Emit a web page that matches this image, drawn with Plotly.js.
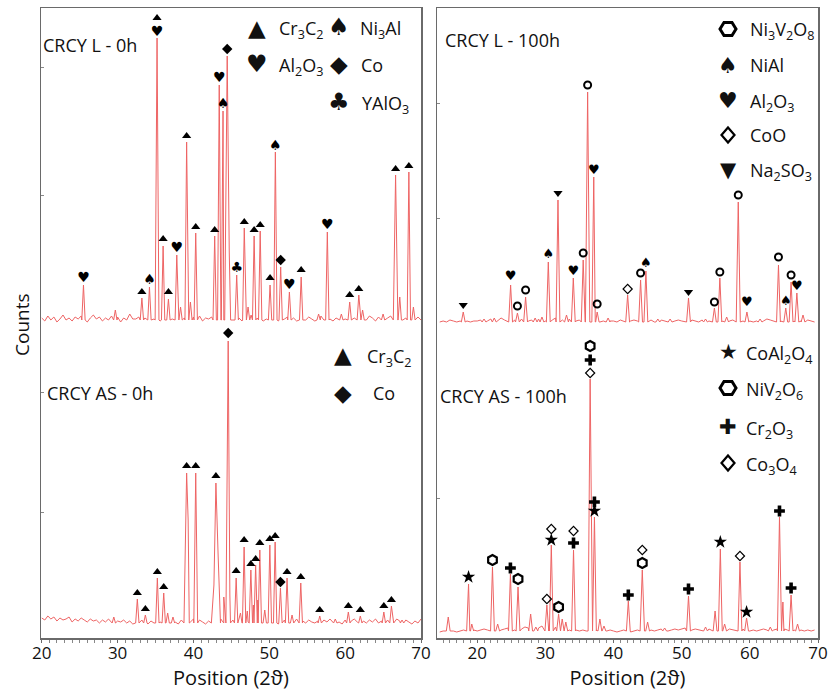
<!DOCTYPE html>
<html><head><meta charset="utf-8">
<script src="https://cdn.plot.ly/plotly-3.0.1.min.js"></script>
<style>body{margin:0;background:#fff}#chart{width:836px;height:696px}</style>
</head><body><div id="chart"></div>
<script>
// ---------- DATA (heights in counts above each pattern's own baseline) ----------
// Top-left: CRCY L - 0h
const tlPeakX = [25.5,29.7,33.2,34.2,35.2,36.0,36.7,37.8,38.3,39.1,39.6,40.3,42.8,43.4,43.9,44.45,45.7,46.7,47.2,48.0,48.8,50.1,50.8,51.5,52.65,54.2,56.5,57.65,59.5,60.6,61.8,62.3,65.0,66.65,67.2,68.4,69.0];
const tlPeakH = [37,12,24,35,284,76,23,67,15,180,20,89,86,237,211,266,47,94,15,86,91,37,170,55,30,45,8,90,8,20,27,12,8,147,25,150,15];
const tlPeakW = [0.22,0.22,0.22,0.22,0.25,0.22,0.22,0.22,0.22,0.22,0.22,0.22,0.22,0.22,0.22,0.45,0.22,0.22,0.22,0.22,0.22,0.22,0.22,0.22,0.22,0.22,0.22,0.22,0.22,0.22,0.22,0.22,0.22,0.3,0.22,0.22,0.22];
const tlExtraX = [44.72,66.45];
const tlExtraH = [70,60];
const tlNoise = [4,1,6,2,5,0,3,7,2,4,1,5,3,6,2,0,4,7,3,5,
                 1,4,2,6,12,5,0,4,2,8,3,3,5,1,4,6,2,3,5,1,
                 4,2,6,3,1,5,2,4,7,3,5,2,6,1,4,3,5,2,6,4,
                 1,5,3,2,6,4,1,5,3,7,2,4,6,1,3,5,2,4,1,6,
                 3,5,2,4,1,3,6,2,5,3,1,4,6,2,5,3,1,4,2,5,
                 3,6,2,4,1,5,3,2,6,4,1,5,3,2,4,6,1,3,5,2,
                 4,1,6,3,5,2];
const tlCr3C2X = [33.2,35.2,36.0,36.7,39.1,40.3,42.8,46.7,48.0,48.8,50.1,54.2,60.6,61.8,66.65,68.4];
const tlCr3C2Y = [30,304,83,30,186,95,92,100,92,97,44,52,27,33,153,156];
const tlNi3AlX = [34.2,43.9,50.8];
const tlNi3AlY = [42,218,176];
const tlAl2O3X = [25.5,35.2,37.8,43.4,52.65,57.65];
const tlAl2O3Y = [44,290,74,244,37,97];
const tlCoX = [44.45,51.5];
const tlCoY = [273,62];
const tlYAlO3X = [45.7];
const tlYAlO3Y = [54];

// Top-right: CRCY L - 100h
const trPeakX = [17.95,21.0,22.5,24.9,25.9,27.1,28.5,29.5,30.43,31.85,33.1,34.1,35.55,36.2,37.1,37.6,39.2,42.07,43.97,44.75,46.5,48.3,51.0,53.5,54.8,55.6,56.6,58.3,59.57,61.5,64.2,65.27,66.05,66.9,67.8];
const trPeakH = [11,4,5,38,10,26,5,6,61,123,8,45,63,231,146,11,5,28,43,52,4,4,25,4,15,45,6,121,11,4,58,15,41,30,8];
const trPeakW = [0.28,0.28,0.28,0.28,0.28,0.28,0.28,0.28,0.28,0.28,0.28,0.28,0.28,0.32,0.28,0.28,0.28,0.28,0.28,0.28,0.28,0.28,0.28,0.28,0.28,0.28,0.28,0.3,0.28,0.28,0.28,0.28,0.28,0.28,0.28];
const trExtraX = [64.42];
const trExtraH = [18];
const trNoise = [1,2,1,3,2,1,2,3,2,1,2,2,3,1,2,4,3,2,5,3,
                 2,1,3,2,4,3,2,3,5,4,3,2,4,3,5,4,3,2,4,3,
                 2,3,2,1,2,3,2,1,2,3,2,2,1,3,2,1,2,3,2,1,
                 2,2,3,1,2,3,2,1,2,2,3,2,1,2,3,2,1,3,2,2,
                 1,2,3,2,1,2,3,4,3,2,3,2,1,2,3,2,4,3,2,1,
                 2,3,2,1,2,1,2,1,3,2,1];
const trNi3V2O8X = [25.9,27.1,35.55,36.2,37.6,43.97,54.8,55.6,58.3,64.2,66.05];
const trNi3V2O8Y = [17,33,70,238,19,50,21,51,128,66,48];
const trNiAlX = [30.43,44.75,65.27];
const trNiAlY = [68,59,21];
const trAl2O3X = [24.9,34.1,37.1,59.57,66.9];
const trAl2O3Y = [46,51,152,20,36];
const trCoOX = [42.07];
const trCoOY = [34];
const trNa2SO3X = [17.95,31.85,51.0];
const trNa2SO3Y = [18,130,31];

// Bottom-left: CRCY AS - 0h
const blPeakX = [29.5,32.6,33.66,35.24,36.08,36.6,37.3,39.1,40.3,42.96,44.58,45.63,46.68,47.57,48.2,48.75,49.4,50.07,50.77,51.47,52.34,53.0,54.15,56.65,58.7,60.42,62.0,65.1,66.1,67.5];
const blPeakH = [8,26,10,47,32,12,8,152,152,142,284,47,78,55,60,75,15,80,83,37,47,10,42,9,6,13,9,13,19,5];
const blPeakW = [0.22,0.22,0.22,0.22,0.22,0.22,0.22,0.35,0.25,0.6,0.3,0.22,0.22,0.22,0.22,0.22,0.22,0.22,0.22,0.22,0.22,0.22,0.22,0.22,0.22,0.22,0.22,0.22,0.22,0.22];
const blExtraX = [39.3,42.7,43.25,44.0,44.8,46.2,47.1,47.9,48.48];
const blExtraH = [105,40,70,28,30,12,14,20,25];
const blNoise = [7,5,9,6,8,4,7,5,6,8,3,6,4,7,5,3,6,4,5,2,
                 5,3,6,2,9,4,3,5,2,4,1,4,2,5,3,1,4,2,6,3,
                 5,2,4,6,3,1,5,2,4,3,6,2,5,3,1,4,2,5,3,6,
                 2,4,1,5,3,6,2,4,3,5,1,4,2,6,3,5,2,4,1,3,
                 5,2,4,3,6,1,4,2,5,3,2,4,1,5,3,6,2,4,3,1,
                 5,2,4,6,3,1,4,2,5,3,6,2,4,1,5,3,2,6,4,2,
                 5,3,1,4,2,6];
const blCr3C2X = [32.6,33.66,35.24,36.08,39.1,40.3,42.96,45.63,46.68,47.57,48.2,48.75,50.07,50.77,52.34,54.15,56.65,60.42,62.0,65.1,66.1];
const blCr3C2Y = [32,16,53,38,159,159,149,54,85,61,66,82,86,89,53,48,15,19,15,19,25];
const blCoX = [44.58,51.47];
const blCoY = [292,43];

// Bottom-right: CRCY AS - 100h
const brPeakX = [15.75,18.73,19.2,22.24,23.0,24.87,25.99,27.84,28.6,30.22,30.87,31.94,32.47,33.0,34.13,36.57,37.2,38.0,38.6,42.17,44.22,45.0,47.5,51.0,53.5,54.9,55.67,56.3,58.55,59.52,63.0,64.35,66.05,67.0];
const brPeakH = [15,48,8,65,8,58,45,18,5,27,87,18,13,10,82,253,115,13,6,31,62,10,4,36,5,21,83,8,70,14,5,115,37,8];
const brPeakW = [0.28,0.28,0.28,0.28,0.28,0.28,0.28,0.28,0.28,0.28,0.28,0.28,0.28,0.28,0.28,0.3,0.28,0.28,0.28,0.28,0.32,0.28,0.28,0.28,0.28,0.28,0.28,0.28,0.28,0.28,0.28,0.3,0.28,0.28];
const brExtraX = [64.85,65.1];
const brExtraH = [30,3];
const brNoise = [0,1,0,2,1,0,1,2,1,3,2,1,2,3,2,1,2,3,2,3,
                 4,3,2,4,3,5,4,3,5,4,6,5,4,6,5,4,5,3,2,3,
                 2,1,2,1,0,1,2,1,2,1,2,1,0,1,2,1,0,1,2,1,
                 2,3,2,1,2,3,2,1,2,3,2,3,4,3,2,3,2,1,2,3,
                 2,3,2,1,2,3,2,1,2,3,2,1,2,1,2,3,2,1,2,3,
                 2,1,2,1,2,3,2,1,2,1,2];
const brCoAl2O4X = [18.73,30.87,37.2,55.67,59.52];
const brCoAl2O4Y = [55,92,121,90,20];
const brNiV2O6X = [22.24,25.99,31.94,36.57,44.22];
const brNiV2O6Y = [72,53,25,286,69];
const brCr2O3X = [24.87,34.13,36.57,37.2,42.17,51.0,64.35,66.05];
const brCr2O3Y = [64,89,272,130,37,43,121,44];
const brCo3O4X = [30.22,30.87,34.13,36.57,44.22,58.55];
const brCo3O4Y = [33,103,101,259,82,76];

const xTicks = [20,30,40,50,60,70];

// ---------- BUILD ----------
const RED = 'rgb(238,100,100)';
function pattern(px, ph, pw, ex, eh, noise, n0, nStep, foot, off, ax) {
  const pts = [];
  px.forEach((x,i)=>{ pts.push([x-pw[i],foot]); pts.push([x,ph[i]]); pts.push([x+pw[i],foot]); });
  noise.forEach((h,i)=>{ const x = n0 + i*nStep;
    if (!px.some((p,j)=>Math.abs(x-p) < pw[j])) pts.push([x,h]); });
  ex.forEach((x,i)=>pts.push([x,eh[i]]));
  pts.sort((a,b)=>a[0]-b[0]);
  return {type:'scatter', mode:'lines', x:pts.map(p=>p[0]), y:pts.map(p=>p[1]+off),
    xaxis:ax[0], yaxis:ax[1], line:{color:RED, width:1}, hoverinfo:'skip', showlegend:false};
}
function mk(xs, ys, off, ax, marker) {
  return {type:'scatter', mode:'markers', x:xs, y:ys.map(v=>v+off), xaxis:ax[0], yaxis:ax[1],
    marker:marker, hoverinfo:'skip', showlegend:false, cliponaxis:false};
}
function gl(xs, ys, off, ax, ch, size) {
  return {type:'scatter', mode:'text', x:xs, y:ys.map(v=>v+off), xaxis:ax[0], yaxis:ax[1],
    text:xs.map(()=>ch), textposition:'middle center',
    textfont:{family:'DejaVu Sans', size:size, color:'#000'}, hoverinfo:'skip', showlegend:false, cliponaxis:false};
}
const L = ['x','y'], R = ['x2','y2'];
const tlOff = 316, trOff = 315, blOff = 13, brOff = 6;
const triUp = {symbol:'triangle-up', size:8, color:'#000'};
const diaF = {symbol:'diamond', size:8, color:'#000'};
const triDn = {symbol:'triangle-down', size:8, color:'#000'};
const circO = {symbol:'circle-open', size:7, color:'#000', line:{width:2}};
const hexO = {symbol:'hexagon-open', size:10, color:'#000', line:{width:2.2}};
const diaO = {symbol:'diamond-open', size:7, color:'#000', line:{width:1.2}};
const starF = {symbol:'star', size:10, color:'#000'};
const crossF = {symbol:'cross', size:9, color:'#000'};

const data = [
  pattern(tlPeakX, tlPeakH, tlPeakW, tlExtraX, tlExtraH, tlNoise, 20, 0.4, 2, tlOff, L),
  pattern(blPeakX, blPeakH, blPeakW, blExtraX, blExtraH, blNoise, 20, 0.4, 2, blOff, L),
  pattern(trPeakX, trPeakH, trPeakW, trExtraX, trExtraH, trNoise, 14.5, 0.5, 1, trOff, R),
  pattern(brPeakX, brPeakH, brPeakW, brExtraX, brExtraH, brNoise, 14.5, 0.5, 1, brOff, R),
  mk(tlCr3C2X, tlCr3C2Y, tlOff, L, triUp),
  gl(tlNi3AlX, tlNi3AlY, tlOff, L, '\u2660', 14),
  gl(tlAl2O3X, tlAl2O3Y, tlOff, L, '\u2665', 14),
  mk(tlCoX, tlCoY, tlOff, L, diaF),
  gl(tlYAlO3X, tlYAlO3Y, tlOff, L, '\u2663', 14),
  mk(blCr3C2X, blCr3C2Y, blOff, L, triUp),
  mk(blCoX, blCoY, blOff, L, diaF),
  mk(trNi3V2O8X, trNi3V2O8Y, trOff, R, circO),
  gl(trNiAlX, trNiAlY, trOff, R, '\u2660', 13),
  gl(trAl2O3X, trAl2O3Y, trOff, R, '\u2665', 13),
  mk(trCoOX, trCoOY, trOff, R, diaO),
  mk(trNa2SO3X, trNa2SO3Y, trOff, R, triDn),
  mk(brCoAl2O4X, brCoAl2O4Y, brOff, R, starF),
  mk(brNiV2O6X, brNiV2O6Y, brOff, R, hexO),
  mk(brCr2O3X, brCr2O3Y, brOff, R, crossF),
  mk(brCo3O4X, brCo3O4Y, brOff, R, diaO)
];

// ---------- LAYOUT ----------
const ML = 41, MT = 8, PW = 777, PH = 630;
const px2x = p => (p - ML) / PW;
const py2y = p => (MT + PH - p) / PH;
const ann = [];
const shp = [];
const LEG = 18;
function txt(t, px, py, size, anchor, fam) {
  ann.push({xref:'paper', yref:'paper', x:px2x(px), y:py2y(py), text:t, showarrow:false,
    xanchor:anchor, yanchor:'middle', font:{size:size, color:'#111', family:fam || 'Open Sans, sans-serif'}});
}
function sym(ch, px, py, size) { txt(ch, px, py, size, 'center', 'DejaVu Sans'); }
// open legend outlines drawn as paper-space paths (pixel based)
function outline(pts, lw) {
  const d = pts.map((p,i)=>(i?'L':'M') + px2x(p[0]).toFixed(5) + ',' + py2y(p[1]).toFixed(5)).join(' ') + ' Z';
  shp.push({type:'path', xref:'paper', yref:'paper', path:d, line:{color:'#000', width:lw}, fillcolor:'rgba(0,0,0,0)'});
}
function hexLegend(cx, cy) {
  const r = 8;
  outline([[cx-r,cy],[cx-r/2,cy-6.5],[cx+r/2,cy-6.5],[cx+r,cy],[cx+r/2,cy+6.5],[cx-r/2,cy+6.5]], 3);
}
function diaLegend(cx, cy) {
  outline([[cx,cy-7.5],[cx+6.5,cy],[cx,cy+7.5],[cx-6.5,cy]], 2.2);
}

// Panel labels
txt('CRCY L - 0h', 41, 45, 18, 'left');
txt('CRCY L - 100h', 443, 40, 18, 'left');
txt('CRCY AS - 0h', 45, 393, 18, 'left');
txt('CRCY AS - 100h', 438, 396, 18, 'left');
// Legend top-left
sym('\u25B2', 257, 28, 23); txt('Cr<sub>3</sub>C<sub>2</sub>', 277, 30, LEG, 'left');
sym('\u2660', 339, 27, 24); txt('Ni<sub>3</sub>Al', 358, 30, LEG, 'left');
sym('\u2665', 257, 64, 24); txt('Al<sub>2</sub>O<sub>3</sub>', 277, 66, LEG, 'left');
sym('\u25C6', 339, 64, 23); txt('Co', 359, 65, LEG, 'left');
sym('\u2663', 339, 102, 24); txt('YAlO<sub>3</sub>', 360, 104, LEG, 'left');
// Legend top-right
hexLegend(728, 29); txt('Ni<sub>3</sub>V<sub>2</sub>O<sub>8</sub>', 748, 31, LEG, 'left');
sym('\u2660', 728, 65, 22); txt('NiAl', 748, 65, LEG, 'left');
sym('\u2665', 728, 100, 22); txt('Al<sub>2</sub>O<sub>3</sub>', 748, 102, LEG, 'left');
diaLegend(728, 135); txt('CoO', 748, 135, LEG, 'left');
sym('\u25BC', 728, 170, 21); txt('Na<sub>2</sub>SO<sub>3</sub>', 748, 172, LEG, 'left');
// Legend bottom-left
sym('\u25B2', 343, 355, 23); txt('Cr<sub>3</sub>C<sub>2</sub>', 365, 357, LEG, 'left');
sym('\u25C6', 343, 393, 23); txt('Co', 371, 393, LEG, 'left');
// Legend bottom-right
sym('\u2605', 728, 352, 21); txt('CoAl<sub>2</sub>O<sub>4</sub>', 744, 354, LEG, 'left');
hexLegend(728, 388); txt('NiV<sub>2</sub>O<sub>6</sub>', 744, 390, LEG, 'left');
sym('\u271A', 728, 427, 21); txt('Cr<sub>2</sub>O<sub>3</sub>', 744, 429, LEG, 'left');
diaLegend(728, 463); txt('Co<sub>3</sub>O<sub>4</sub>', 744, 465, LEG, 'left');
// Y title
ann.push({xref:'paper', yref:'paper', x:px2x(22), y:py2y(325), text:'Counts', showarrow:false,
  textangle:-90, xanchor:'center', yanchor:'middle', font:{size:19, color:'#111', family:'Open Sans, sans-serif'}});

const xBase = {showline:true, linecolor:'#6a6a6a', linewidth:1.5, mirror:true, ticks:'outside', ticklen:3,
  tickcolor:'#6a6a6a', tickvals:xTicks, showgrid:false, zeroline:false, ticklabelstandoff:-4,
  minor:{dtick:1, ticks:'outside', ticklen:3, tickcolor:'#888', showgrid:false},
  tickfont:{size:17, color:'#111', family:'Open Sans, sans-serif'},
  title:{text:'Position (2\u03D1)', font:{size:20, color:'#111', family:'Open Sans, sans-serif'}, standoff:2}};
const yBase = {range:[0,630], showline:true, linecolor:'#6a6a6a', linewidth:1.5, mirror:true, ticks:'inside', ticklen:3,
  tickcolor:'#888', showticklabels:false, showgrid:false, zeroline:false, fixedrange:true};

const layout = {
  width:836, height:696, margin:{l:ML, r:18, t:MT, b:58}, paper_bgcolor:'#fff', plot_bgcolor:'#fff',
  showlegend:false, font:{family:'Open Sans, sans-serif', color:'#111'},
  xaxis:Object.assign({}, xBase, {domain:[0, px2x(421)], range:[19.9,70], anchor:'y'}),
  yaxis:Object.assign({}, yBase, {anchor:'x', tickvals:[126,246,443,571]}),
  xaxis2:Object.assign({}, xBase, {domain:[px2x(437), 1], range:[14.1,70], anchor:'y2'}),
  yaxis2:Object.assign({}, yBase, {anchor:'x2', tickvals:[140,420,535]}),
  annotations:ann, shapes:shp
};
Plotly.newPlot('chart', data, layout, {displayModeBar:false, staticPlot:true});
</script></body></html>
